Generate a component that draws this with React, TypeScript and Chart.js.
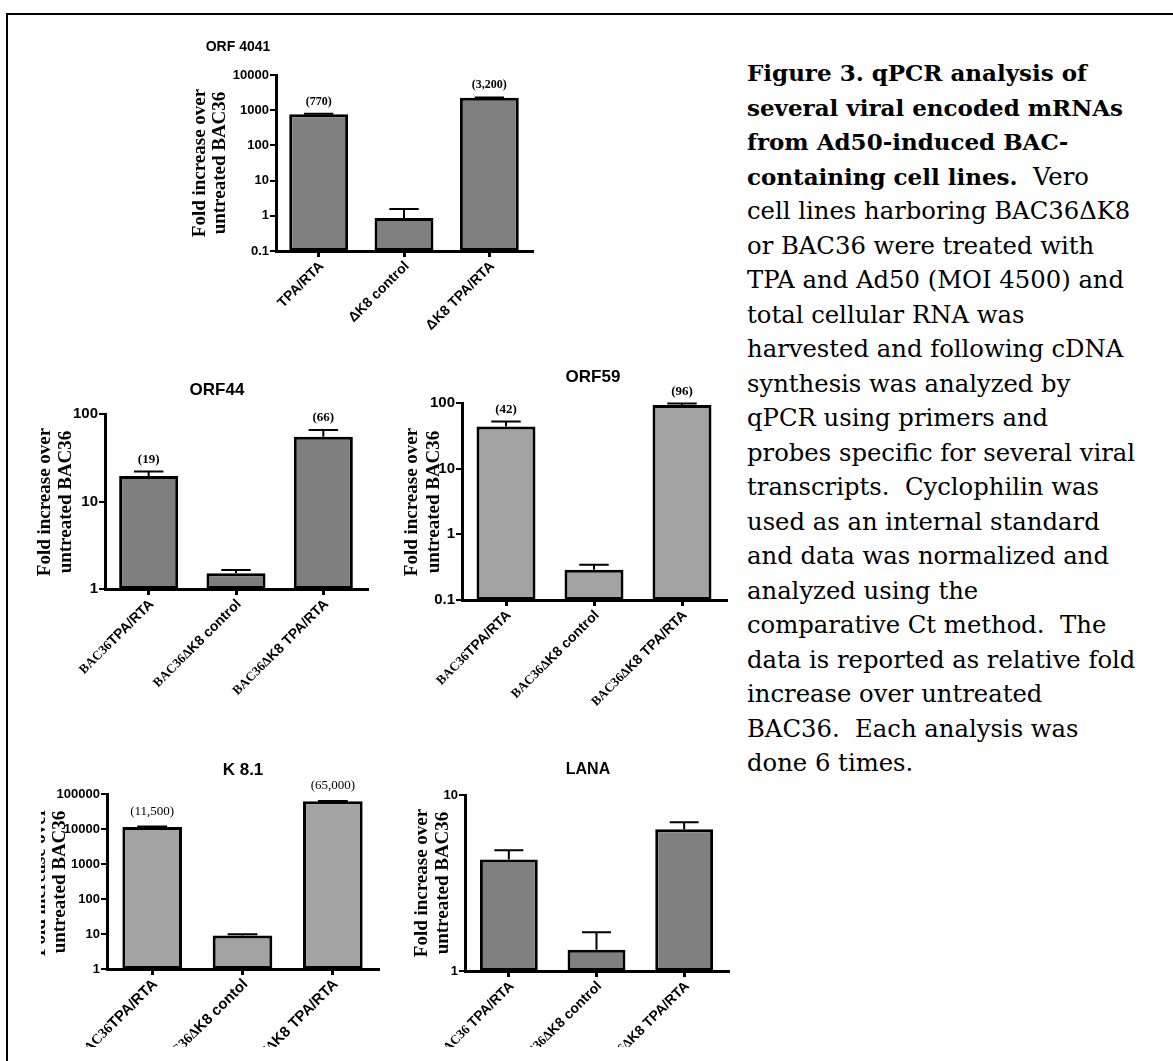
import React, { useEffect, useRef } from 'react';
import { Chart, registerables } from 'chart.js';

Chart.register(...registerables);

// ---------------- DATA ----------------
const orf4041Categories = ['TPA/RTA', 'ΔK8 control', 'ΔK8 TPA/RTA'];
const orf4041Values = [770, 0.86, 2250];
const orf4041ErrorTops = [790, 1.55, 2310];
const orf4041ValueLabels = ['(770)', '', '(3,200)'];
const orf4041TickValues = [0.1, 1, 10, 100, 1000, 10000];
const orf4041TickLabels = ['0.1', '1', '10', '100', '1000', '10000'];

const orf44Categories = ['BAC36TPA/RTA', 'BAC36ΔK8 control', 'BAC36ΔK8 TPA/RTA'];
const orf44Values = [19.5, 1.51, 55];
const orf44ErrorTops = [22, 1.65, 65.6];
const orf44ValueLabels = ['(19)', '', '(66)'];
const orf44TickValues = [1, 10, 100];
const orf44TickLabels = ['1', '10', '100'];

const orf59Categories = ['BAC36TPA/RTA', 'BAC36ΔK8 control', 'BAC36ΔK8 TPA/RTA'];
const orf59Values = [44, 0.288, 93];
const orf59ErrorTops = [52.5, 0.343, 98];
const orf59ValueLabels = ['(42)', '', '(96)'];
const orf59TickValues = [0.1, 1, 10, 100];
const orf59TickLabels = ['0.1', '1', '10', '100'];

const k81Categories = ['BAC36TPA/RTA', 'BAC36ΔK8 contol', 'BAC36ΔK8 TPA/RTA'];
const k81Values = [11400, 9.1, 61600];
const k81ErrorTops = [11800, 9.9, 63000];
const k81ValueLabels = ['(11,500)', '', '(65,000)'];
const k81TickValues = [1, 10, 100, 1000, 10000, 100000];
const k81TickLabels = ['1', '10', '100', '1000', '10000', '100000'];

const lanaCategories = ['BAC36 TPA/RTA', 'BAC36ΔK8 control', 'BAC36ΔK8 TPA/RTA'];
const lanaValues = [4.3, 1.32, 6.38];
const lanaErrorTops = [4.86, 1.66, 7.0];
const lanaValueLabels = ['', '', ''];
const lanaTickValues = [1, 10];
const lanaTickLabels = ['1', '10'];

const yTitleLines = ['Fold increase over', 'untreated BAC36'];

const captionLines: { bold?: string; normal?: string }[] = [
  { bold: 'Figure 3. qPCR analysis of' },
  { bold: 'several viral encoded mRNAs' },
  { bold: 'from Ad50-induced BAC-' },
  { bold: 'containing cell lines.', normal: '  Vero' },
  { normal: 'cell lines harboring BAC36ΔK8' },
  { normal: 'or BAC36 were treated with' },
  { normal: 'TPA and Ad50 (MOI 4500) and' },
  { normal: 'total cellular RNA was' },
  { normal: 'harvested and following cDNA' },
  { normal: 'synthesis was analyzed by' },
  { normal: 'qPCR using primers and' },
  { normal: 'probes specific for several viral' },
  { normal: 'transcripts.  Cyclophilin was' },
  { normal: 'used as an internal standard' },
  { normal: 'and data was normalized and' },
  { normal: 'analyzed using the' },
  { normal: 'comparative Ct method.  The' },
  { normal: 'data is reported as relative fold' },
  { normal: 'increase over untreated' },
  { normal: 'BAC36.  Each analysis was' },
  { normal: 'done 6 times.' },
];

// ---------------- LAYOUT / STYLE ----------------
type Panel = {
  key: string;
  title: string;
  categories: string[];
  values: number[];
  errors: number[];
  valueLabels: string[];
  tickValues: number[];
  tickLabels: string[];
  canvas: [number, number, number, number];
  area: [number, number, number, number];
  titlePos: [number, number];
  titleSize: number;
  yTitleX: [number, number];
  yTitleY: number;
  tickSize: number;
  serifLabelSize: number;
  sansLabelSize: number;
  valueFont: string;
  valueGap: number;
  fill: string;
  barPct: number;
};

const SERIF = '"Liberation Serif", "Times New Roman", serif';
const SANS = '"Liberation Sans", Arial, sans-serif';

const panels: Panel[] = [
  {
    key: 'orf4041', title: 'ORF 4041',
    categories: orf4041Categories, values: orf4041Values, errors: orf4041ErrorTops,
    valueLabels: orf4041ValueLabels, tickValues: orf4041TickValues, tickLabels: orf4041TickLabels,
    canvas: [110, 22, 450, 343], area: [276, 75, 532, 251],
    titlePos: [238, 47], titleSize: 14, yTitleX: [200, 220], yTitleY: 163,
    tickSize: 13, serifLabelSize: 14, sansLabelSize: 14,
    valueFont: `bold 12px ${SERIF}`, valueGap: 12, fill: '#808080', barPct: 0.69,
  },
  {
    key: 'orf44', title: 'ORF44',
    categories: orf44Categories, values: orf44Values, errors: orf44ErrorTops,
    valueLabels: orf44ValueLabels, tickValues: orf44TickValues, tickLabels: orf44TickLabels,
    canvas: [18, 370, 357, 345], area: [105, 414, 367, 589],
    titlePos: [217, 390], titleSize: 17, yTitleX: [45, 66], yTitleY: 502,
    tickSize: 15, serifLabelSize: 13, sansLabelSize: 14,
    valueFont: `bold 13px ${SERIF}`, valueGap: 12, fill: '#7f7f7f', barPct: 0.676,
  },
  {
    key: 'orf59', title: 'ORF59',
    categories: orf59Categories, values: orf59Values, errors: orf59ErrorTops,
    valueLabels: orf59ValueLabels, tickValues: orf59TickValues, tickLabels: orf59TickLabels,
    canvas: [385, 362, 345, 358], area: [462, 403, 726, 600],
    titlePos: [593, 377], titleSize: 17, yTitleX: [412, 434], yTitleY: 502,
    tickSize: 15, serifLabelSize: 13, sansLabelSize: 14,
    valueFont: `bold 13px ${SERIF}`, valueGap: 12, fill: '#a3a3a3', barPct: 0.67,
  },
  {
    key: 'k81', title: 'K 8.1',
    categories: k81Categories, values: k81Values, errors: k81ErrorTops,
    valueLabels: k81ValueLabels, tickValues: k81TickValues, tickLabels: k81TickLabels,
    canvas: [41, 755, 345, 292], area: [107, 794, 378, 969],
    titlePos: [243, 770], titleSize: 17, yTitleX: [40, 60], yTitleY: 882,
    tickSize: 13, serifLabelSize: 14, sansLabelSize: 15,
    valueFont: `13px ${SERIF}`, valueGap: 15, fill: '#a3a3a3', barPct: 0.66,
  },
  {
    key: 'lana', title: 'LANA',
    categories: lanaCategories, values: lanaValues, errors: lanaErrorTops,
    valueLabels: lanaValueLabels, tickValues: lanaTickValues, tickLabels: lanaTickLabels,
    canvas: [395, 755, 340, 292], area: [465, 795, 728, 971],
    titlePos: [588, 770], titleSize: 16, yTitleX: [422, 443], yTitleY: 883,
    tickSize: 13, serifLabelSize: 13, sansLabelSize: 14,
    valueFont: `13px ${SERIF}`, valueGap: 12, fill: '#808080', barPct: 0.66,
  },
];

const Y_W = 60;
const X_H = 10;

function splitLabel(s: string): { text: string; serif: boolean }[] {
  const m = s.match(/^BAC36\s?Δ?/);
  if (!m) return [{ text: s, serif: false }];
  return [
    { text: m[0], serif: true },
    { text: s.slice(m[0].length), serif: false },
  ];
}

function makeDecor(p: Panel) {
  const ox = p.canvas[0];
  const oy = p.canvas[1];
  return {
    id: 'decor_' + p.key,
    afterDatasetsDraw(chart: any) {
      const ctx = chart.ctx as CanvasRenderingContext2D;
      const y = chart.scales.y;
      const meta = chart.getDatasetMeta(0);
      ctx.save();
      ctx.strokeStyle = '#000';
      ctx.lineWidth = 2;
      meta.data.forEach((el: any, i: number) => {
        const e = p.errors[i];
        if (e == null) return;
        const yt = y.getPixelForValue(e);
        const hw = el.width * 0.25;
        ctx.beginPath();
        ctx.moveTo(el.x, el.y);
        ctx.lineTo(el.x, yt);
        ctx.moveTo(el.x - hw, yt);
        ctx.lineTo(el.x + hw, yt);
        ctx.stroke();
      });
      ctx.fillStyle = '#000';
      ctx.textAlign = 'center';
      ctx.textBaseline = 'middle';
      ctx.font = p.valueFont;
      meta.data.forEach((el: any, i: number) => {
        const t = p.valueLabels[i];
        if (!t) return;
        const e = p.errors[i];
        const top = Math.min(el.y, e != null ? y.getPixelForValue(e) : el.y);
        ctx.fillText(t, el.x, top - p.valueGap);
      });
      ctx.restore();
    },
    afterDraw(chart: any) {
      const ctx = chart.ctx as CanvasRenderingContext2D;
      const area = chart.chartArea;
      const xs = chart.scales.x;
      ctx.save();
      ctx.fillStyle = '#000';
      ctx.font = `bold ${p.titleSize}px ${SANS}`;
      ctx.textAlign = 'center';
      ctx.textBaseline = 'middle';
      ctx.fillText(p.title, p.titlePos[0] - ox, p.titlePos[1] - oy);
      ctx.font = `bold 19px ${SERIF}`;
      yTitleLines.forEach((line, k) => {
        ctx.save();
        ctx.translate(p.yTitleX[k] - ox, p.yTitleY - oy);
        ctx.rotate(-Math.PI / 2);
        ctx.textAlign = 'center';
        ctx.textBaseline = 'middle';
        ctx.fillText(line, 0, 0);
        ctx.restore();
      });
      p.categories.forEach((cat, i) => {
        const x = xs.getPixelForValue(i);
        ctx.save();
        ctx.translate(x + 3, area.bottom + 13);
        ctx.rotate(-Math.PI / 4);
        ctx.textAlign = 'left';
        ctx.textBaseline = 'middle';
        const parts = splitLabel(cat);
        let cur = 0;
        for (let k = parts.length - 1; k >= 0; k--) {
          const part = parts[k];
          ctx.font = part.serif
            ? `bold ${p.serifLabelSize}px ${SERIF}`
            : `bold ${p.sansLabelSize}px ${SANS}`;
          const w = ctx.measureText(part.text).width;
          cur -= w;
          ctx.fillText(part.text, cur, 0);
        }
        ctx.restore();
      });
      ctx.restore();
    },
  };
}

function BarPanel({ p }: { p: Panel }) {
  const ref = useRef<HTMLCanvasElement>(null);
  const [cl, ct, cw, ch] = p.canvas;
  useEffect(() => {
    const c = ref.current;
    if (!c) return;
    const padding = {
      left: p.area[0] - cl - Y_W,
      top: p.area[1] - ct,
      right: cl + cw - p.area[2],
      bottom: ct + ch - p.area[3] - X_H,
    };
    const chart = new Chart(c, {
      type: 'bar',
      data: {
        labels: p.categories,
        datasets: [
          {
            data: p.values,
            backgroundColor: p.fill,
            borderColor: '#000',
            borderWidth: 3,
            borderSkipped: false,
            barPercentage: p.barPct,
            categoryPercentage: 1,
          },
        ],
      },
      options: {
        responsive: false,
        maintainAspectRatio: false,
        devicePixelRatio: 1,
        animation: false,
        layout: { padding },
        plugins: {
          legend: { display: false },
          tooltip: { enabled: false },
          title: { display: false },
        },
        scales: {
          x: {
            type: 'category',
            offset: true,
            afterFit: (s: any) => {
              s.height = X_H;
            },
            ticks: { display: false },
            grid: {
              display: true,
              offset: false,
              drawOnChartArea: false,
              drawTicks: true,
              tickLength: 6,
              color: '#000',
              lineWidth: 3,
            },
            border: { display: true, color: '#000', width: 3 },
          },
          y: {
            type: 'logarithmic',
            min: p.tickValues[0],
            max: p.tickValues[p.tickValues.length - 1],
            afterFit: (s: any) => {
              s.width = Y_W;
            },
            afterBuildTicks: (s: any) => {
              s.ticks = p.tickValues.map((v) => ({ value: v }));
            },
            ticks: {
              autoSkip: false,
              padding: 1,
              color: '#000',
              font: { family: SANS, weight: 'bold', size: p.tickSize },
              callback: (v: any) => {
                const idx = p.tickValues.indexOf(Number(v));
                return idx >= 0 ? p.tickLabels[idx] : '';
              },
            },
            grid: {
              display: true,
              drawOnChartArea: false,
              drawTicks: true,
              tickLength: 6,
              color: '#000',
              lineWidth: 2,
            },
            border: { display: true, color: '#000', width: 3 },
          },
        },
      },
      plugins: [makeDecor(p)],
    } as any);
    return () => chart.destroy();
  }, [p]);
  return (
    <canvas
      ref={ref}
      width={cw}
      height={ch}
      style={{ position: 'absolute', left: cl, top: ct, width: cw, height: ch }}
    />
  );
}

export default function App() {
  return (
    <div style={{ position: 'absolute', left: 0, top: 0, width: 1173, height: 1061, background: '#fff', overflow: 'hidden' }}>
      <div
        style={{
          position: 'absolute',
          left: 6,
          top: 13,
          width: 1167,
          height: 1048,
          boxSizing: 'border-box',
          borderTop: '2px solid #000',
          borderLeft: '2px solid #000',
        }}
      />
      {panels.map((p) => (
        <BarPanel key={p.key} p={p} />
      ))}
      <div
        style={{
          position: 'absolute',
          left: 747,
          top: 56,
          fontFamily: '"DejaVu Serif", serif',
          color: '#000',
          lineHeight: '34.5px',
          whiteSpace: 'pre',
        }}
      >
        {captionLines.map((ln, i) => (
          <div key={i} style={{ height: 34.5 }}>
            {ln.bold ? <span style={{ fontWeight: 'bold', fontSize: 23 }}>{ln.bold}</span> : null}
            {ln.normal ? <span style={{ fontSize: 24.3 }}>{ln.normal}</span> : null}
          </div>
        ))}
      </div>
    </div>
  );
}
